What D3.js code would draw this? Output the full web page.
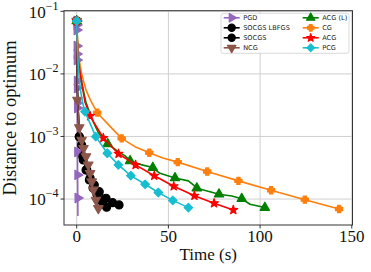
<!DOCTYPE html>
<html><head><meta charset="utf-8">
<script src="https://cdn.jsdelivr.net/npm/d3@7"></script>
<style>body{margin:0;background:#fff}svg{display:block}</style>
</head><body><svg id="c" width="371" height="272"></svg>
<script>
// ---- data (time in s, distance to optimum) ----
const pgdT = [0,0.03,0.06,0.09,0.12,0.15,0.2,0.24,0.3,0.34,0.42,0.5,0.58,0.65];
const pgdV = [0.070,0.0604,0.0502,0.0279,0.0208,0.0167,0.0077,0.00596,0.00343,0.00285,0.000565,0.000243,0.000104,0.0000537];
const pgdM = [0,1,2,3,4,5,6,7,8,9,10,11,12];

const lbfgsT = [0,0.3,1.4,3.3,5.1,6.9,8.9,10.9,12.7,14.3,16.3];
const lbfgsV = [0.070,0.0063,0.000993,0.000475,0.000292,0.000202,0.00015,0.000121,0.0000968,0.0000857,0.000074];
const lbfgsM = [0,2,3,4,5,6,7,8,9,10];

const socgsT = [0,0.3,1.4,2.7,3.6,5.5,7.3,9.6,12.3,16.0,19.6,23.1];
const socgsV = [0.070,0.0063,0.000993,0.000731,0.000422,0.000292,0.000217,0.000168,0.000131,0.000103,0.0000875,0.0000805];
const socgsM = [0,2,3,4,5,6,7,8,9,10,11];

const ncgT = [0,0.4,1.4,2.7,3.7,5.1,6.3,7.3,8.2,9.1,10.5,11.8];
const ncgV = [0.070,0.00383,0.00139,0.000879,0.000649,0.000479,0.000351,0.000258,0.00019,0.00014,0.0000966,0.0000711];
const ncgM = [0,1,2,3,4,5,6,7,8,9,10,11];

const acglT = [0,0.6,1.3,2.8,5,8,12,16.9,22.7,26.4,29.1,35,41.5,45.4,53.6,60.9,63.6,65.5,72.7,77.6,84.6,90,94.5,102.6];
const acglV = [0.070,0.0251,0.0126,0.00708,0.00355,0.002,0.00112,0.000759,0.000571,0.00049,0.000407,0.000355,0.000318,0.000258,0.000217,0.000195,0.000168,0.000149,0.000131,0.000119,0.000112,0.000101,0.0000826,0.000073];
const acglM = [0,7,10,12,14,17,19,21,23];

const cgT = [0,0.4,0.9,1.4,2.5,3.6,5.1,7.5,11.2,18.2,24.5,31.8,39.6,47,55.1,71.2,88.2,106,124.4,143.1];
const cgV = [0.070,0.0355,0.0224,0.0166,0.0105,0.00794,0.0055,0.0038,0.0024,0.00145,0.000933,0.000687,0.00055,0.000452,0.000389,0.000275,0.000195,0.000138,0.0000977,0.0000692];
const cgM = [0,8,10,12,14,15,16,17,18,19];

const acgT = [0,0.5,1.2,2.7,4.5,7.3,14.5,22.8,32.1,42.3,52.9,64.2,74.9,85.4];
const acgV = [0.070,0.0251,0.0141,0.00724,0.00355,0.00212,0.000946,0.00053,0.000351,0.000236,0.00016,0.000113,0.0000857,0.000067];
const acgM = [0,5,6,7,8,9,10,11,12,13];

const pcgT = [0,0.3,0.7,1.3,2.3,3.3,4.5,10.4,16.7,22.7,29.5,37.3,44.5,52.4,60.9];
const pcgV = [0.070,0.0316,0.0166,0.0089,0.0050,0.00339,0.00249,0.000993,0.00054,0.000351,0.000237,0.000172,0.000127,0.0000951,0.0000729];
const pcgM = [0,6,7,8,9,10,11,12,13,14];

const seriesNames = ["PGD","SOCGS LBFGS","SOCGS","NCG","ACG (L)","CG","ACG","PCG"];
const xTicks = [0,50,100,150];
const yTickExp = [-1,-2,-3,-4];

// ---- styles ----
const series = [
  {name:seriesNames[0], t:pgdT, v:pgdV, m:pgdM, color:"#9467bd", sym:"triR"},
  {name:seriesNames[1], t:lbfgsT, v:lbfgsV, m:lbfgsM, color:"#000000", sym:"circle"},
  {name:seriesNames[2], t:socgsT, v:socgsV, m:socgsM, color:"#000000", sym:"circle"},
  {name:seriesNames[3], t:ncgT, v:ncgV, m:ncgM, color:"#8c564b", sym:"triD"},
  {name:seriesNames[4], t:acglT, v:acglV, m:acglM, color:"#008000", sym:"triU"},
  {name:seriesNames[5], t:cgT, v:cgV, m:cgM, color:"#ff7f0e", sym:"plus"},
  {name:seriesNames[6], t:acgT, v:acgV, m:acgM, color:"#ff0000", sym:"star"},
  {name:seriesNames[7], t:pcgT, v:pcgV, m:pcgM, color:"#17becf", sym:"diamond"},
];

const L=64, R=352.5, T=10.7, B=225;
const svg = d3.select("#c");
const x = d3.scaleLinear().domain([-6.93,150.4]).range([L,R]);
const y = d3.scaleLog().domain([Math.pow(10,-4.415),Math.pow(10,-0.99)]).range([B,T]);

function fatPlus(r, a){
  return `M${-a},${-r}H${a}V${-a}H${r}V${a}H${a}V${r}H${-a}V${a}H${-r}V${-a}H${-a}Z`;
}
function symPath(sym, k){
  k = k||1;
  switch(sym){
    case "circle": return {d:d3.symbol(d3.symbolCircle, 50*k*k)(), rot:0};
    case "triU": return {d:d3.symbol(d3.symbolTriangle, 38*k*k)(), rot:0};
    case "triD": return {d:d3.symbol(d3.symbolTriangle, 38*k*k)(), rot:180};
    case "triR": return {d:d3.symbol(d3.symbolTriangle, 38*k*k)(), rot:90};
    case "diamond": return {d:d3.symbol(d3.symbolSquare, 36*k*k)(), rot:45};
    case "star": return {d:d3.symbol(d3.symbolStar, 24*k*k)(), rot:0};
    case "plus": return {d:fatPlus(3.6*k, 1.6*k), rot:0};
  }
}

// grid
const g = svg.append("g");
g.selectAll(".gx").data(xTicks).join("line")
  .attr("x1",d=>x(d)).attr("x2",d=>x(d)).attr("y1",T).attr("y2",B)
  .attr("stroke","#cfcfcf").attr("stroke-width",1);
g.selectAll(".gy").data(yTickExp).join("line")
  .attr("y1",d=>y(Math.pow(10,d))).attr("y2",d=>y(Math.pow(10,d))).attr("x1",L).attr("x2",R)
  .attr("stroke","#cfcfcf").attr("stroke-width",1);

// series
svg.append("clipPath").attr("id","pc").append("rect")
  .attr("x",L).attr("y",T).attr("width",R-L).attr("height",B-T);
const plot = svg.append("g").attr("clip-path","url(#pc)");
const line = d3.line().x(d=>x(d[0])).y(d=>y(d[1]));
series.forEach(s=>{
  const pts = s.t.map((t,i)=>[t,s.v[i]]);
  const gs = plot.append("g");
  gs.append("path").attr("d",line(pts)).attr("fill","none")
    .attr("stroke",s.color).attr("stroke-width",1.6).attr("stroke-linejoin","round");
  const sp = symPath(s.sym);
  gs.selectAll("path.m").data(s.m.map(i=>pts[i])).join("path").attr("class","m")
    .attr("d",sp.d)
    .attr("transform",d=>`translate(${x(d[0])},${y(d[1])}) rotate(${sp.rot})`)
    .attr("fill",s.color).attr("stroke",s.color).attr("stroke-width",1.2).attr("stroke-linejoin","round");
});

// frame
svg.append("rect").attr("x",L).attr("y",T).attr("width",R-L).attr("height",B-T)
  .attr("fill","none").attr("stroke","#333").attr("stroke-width",1);

// axes ticks
const serif = "'Liberation Serif', 'DejaVu Serif', serif";
svg.selectAll(".xt").data(xTicks).join("line")
  .attr("x1",d=>x(d)).attr("x2",d=>x(d)).attr("y1",B).attr("y2",B+3.5)
  .attr("stroke","#333").attr("stroke-width",1);
svg.selectAll(".xl").data(xTicks).join("text")
  .attr("x",d=>x(d)).attr("y",241.5).attr("text-anchor","middle")
  .attr("font-family",serif).attr("font-size",17).attr("fill","#111").text(d=>d);
svg.selectAll(".yt").data(yTickExp).join("line")
  .attr("y1",d=>y(Math.pow(10,d))).attr("y2",d=>y(Math.pow(10,d))).attr("x1",L).attr("x2",L-3.5)
  .attr("stroke","#333").attr("stroke-width",1);
const yl = svg.selectAll(".yl").data(yTickExp).join("text")
  .attr("x",58.5).attr("y",d=>y(Math.pow(10,d))+6.3).attr("text-anchor","end")
  .attr("font-family",serif).attr("font-size",17).attr("fill","#111");
yl.append("tspan").text("10");
yl.append("tspan").attr("dy",-8).attr("font-size",12).text(d=>"\u2212"+(-d));

svg.append("text").attr("x",(L+R)/2).attr("y",260).attr("text-anchor","middle")
  .attr("font-family",serif).attr("font-size",17).attr("fill","#111").text("Time (s)");
svg.append("text").attr("transform",`translate(16,${(T+B)/2}) rotate(-90)`)
  .attr("text-anchor","middle").attr("font-family",serif).attr("font-size",18.5)
  .attr("fill","#111").text("Distance to optimum");

// legend
const lg = svg.append("g");
lg.append("rect").attr("x",221).attr("y",13.3).attr("width",128).attr("height",40).attr("rx",2)
  .attr("fill","#fff").attr("fill-opacity",0.85).attr("stroke","#d0d0d0").attr("stroke-width",0.8);
series.forEach((s,i)=>{
  const col = Math.floor(i/4), row = i%4;
  const cx = col? 310.7 : 231.7, cy = 17.8 + row*10;
  lg.append("line").attr("x1",cx-8).attr("x2",cx+8).attr("y1",cy).attr("y2",cy)
    .attr("stroke",s.color).attr("stroke-width",1.6);
  const sp = symPath(s.sym, 0.9);
  lg.append("path").attr("d",sp.d).attr("transform",`translate(${cx},${cy}) rotate(${sp.rot})`)
    .attr("fill",s.color).attr("stroke",s.color).attr("stroke-width",1.2).attr("stroke-linejoin","round");
  lg.append("text").attr("x",cx+11.5).attr("y",cy+2.4)
    .attr("font-family","'DejaVu Sans', sans-serif").attr("font-size",6.6).attr("fill","#222").text(s.name);
});
</script></body></html>
